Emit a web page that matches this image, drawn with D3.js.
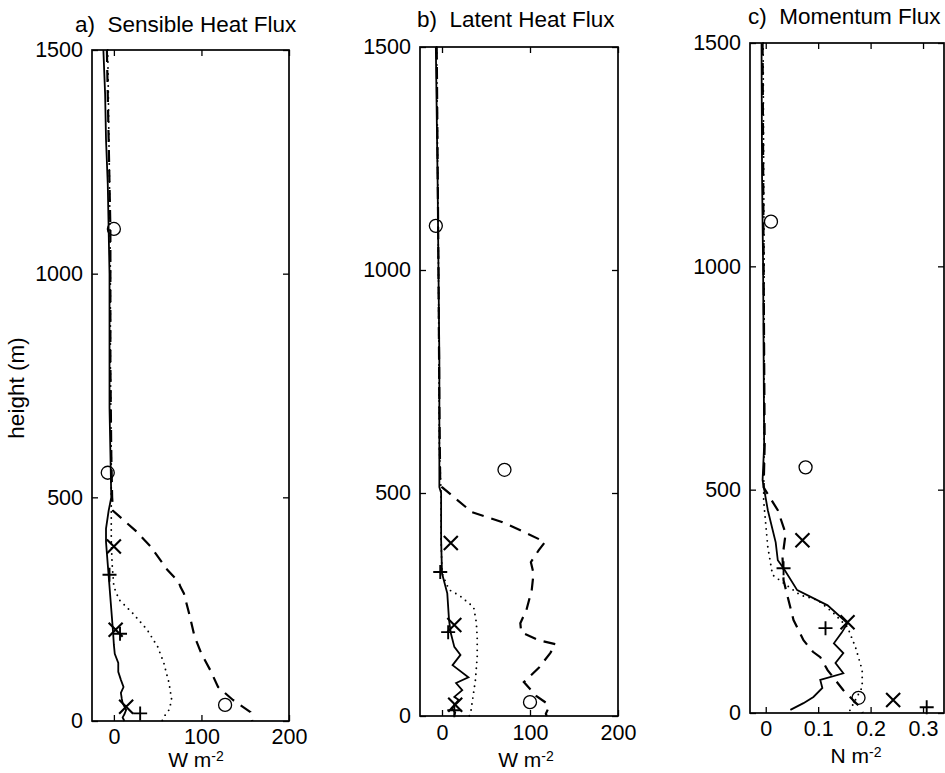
<!DOCTYPE html>
<html>
<head>
<meta charset="utf-8">
<script src="https://cdn.jsdelivr.net/npm/d3@7"></script>
<style>
  body { margin: 0; background: #fff; }
  svg text { font-family: "Liberation Sans", Arial, Helvetica, sans-serif; fill: #000; }
</style>
</head>
<body>
<div id="chart"></div>
<script>
// ---- data: [height (m), flux] ----
// a) sensible heat flux, W m-2
const sensSolid = [[1500,-12],[1400,-10],[1300,-9],[1200,-7],[1100,-6],[1000,-5],[900,-5],[800,-5],[700,-5],[600,-4],[500,-3],[470,-6],[430,-9],[400,-9],[350,-7],[300,-5],[250,-3],[200,-1],[170,0],[150,1],[130,5],[110,5],[92,8],[76,11],[63,8],[50,9],[40,10],[25,14],[15,12],[8,10],[0,12]];
const sensDashed = [[1500,-8],[1300,-6],[1100,-4],[1000,-4],[800,-4],[600,-3],[500,-2],[470,-1],[425,25],[390,42],[338,61],[311,74],[300,76],[285,80],[240,86],[190,92],[150,100],[114,110],[76,119],[47,136],[20,156],[0,158]];
const sensDotted = [[1500,-7],[1200,-5],[1000,-4],[800,-4],[600,-3],[500,-3],[430,-3],[405,-3],[350,-2],[300,0],[271,6],[242,21],[204,38],[166,50],[130,57],[107,60],[85,63],[47,66],[25,63],[9,57],[0,55]];
const sensCircle = [[1100,0],[555,-7],[36,127]];
const sensCross = [[390,0],[204,2],[32,14]];
const sensPlus = [[327,-5],[195,7],[17,30]];

// b) latent heat flux, W m-2
const latSolid = [[1500,-7],[1200,-5],[1000,-4],[800,-3],[600,-3],[513,-3],[500,-1],[395,-1],[320,0],[275,6],[215,8],[186,10],[155,14],[137,21],[114,12],[87,30],[74,16],[58,23],[43,14],[36,19],[18,11],[8,15],[0,14]];
const latDashed = [[1500,-6],[1000,-4],[700,-3],[520,-2],[513,0],[457,34],[435,68],[413,93],[390,117],[372,110],[345,101],[320,104],[283,102],[238,96],[208,89],[188,90],[170,110],[161,129],[141,123],[108,110],[76,93],[45,107],[30,118],[18,121],[5,118],[0,119]];
const latDotted = [[1500,-6],[1000,-4],[600,-3],[500,-1],[395,-1],[320,0],[283,8],[270,20],[244,36],[210,39],[177,40],[133,40],[81,38],[40,35],[13,33],[0,31]];
const latCircle = [[1099,-7],[552,71],[31,100]];
const latCross = [[388,10],[204,14],[25,15]];
const latPlus = [[323,-2],[188,7],[13,14]];

// c) momentum flux, N m-2
const momSolid = [[1500,-0.008],[1200,-0.007],[1000,-0.005],[800,-0.004],[600,-0.003],[521,-0.006],[454,0.004],[382,0.019],[342,0.023],[324,0.034],[275,0.06],[241,0.118],[201,0.156],[180,0.145],[156,0.13],[134,0.148],[112,0.133],[89,0.148],[74,0.104],[56,0.108],[36,0.091],[22,0.072],[7,0.047]];
const momDashed = [[1500,-0.006],[1000,-0.004],[600,-0.002],[505,-0.004],[454,0.023],[402,0.038],[349,0.032],[297,0.034],[208,0.053],[163,0.072],[137,0.09],[125,0.104],[96,0.118],[51,0.148],[13,0.18],[0,0.185]];
const momDotted = [[1500,-0.005],[1000,-0.003],[600,-0.003],[476,-0.004],[371,0.004],[309,0.013],[291,0.034],[264,0.066],[253,0.099],[224,0.129],[192,0.156],[148,0.171],[96,0.184],[58,0.184],[7,0.161],[0,0.158]];
const momCircle = [[1100,0.01],[550,0.076],[34,0.177]];
const momCross = [[387,0.07],[203,0.156],[29,0.243]];
const momPlus = [[324,0.034],[190,0.114],[13,0.307]];

const heightTicks = [0, 500, 1000, 1500];
const heatTicks = [0, 100, 200];
const momTicks = [0, 0.1, 0.2, 0.3];

const panels = [
  { title: "a)  Sensible Heat Flux", unit: "W m", xDomain: [-25, 200], xTicks: heatTicks, fmt: d3.format("d"),
    box: [92, 289, 50, 721], titleX: 75, titleY: 32, labelX: 196, labelY: 767, pad: 8,
    solid: sensSolid, dashed: sensDashed, dotted: sensDotted, circle: sensCircle, cross: sensCross, plus: sensPlus },
  { title: "b)  Latent Heat Flux", unit: "W m", xDomain: [-25, 200], xTicks: heatTicks, fmt: d3.format("d"),
    box: [420, 618, 47, 716], titleX: 417, titleY: 27, labelX: 526, labelY: 767, pad: 9,
    solid: latSolid, dashed: latDashed, dotted: latDotted, circle: latCircle, cross: latCross, plus: latPlus },
  { title: "c)  Momentum Flux", unit: "N m", xDomain: [-0.03, 0.34], xTicks: momTicks, fmt: d => d === 0 ? "0" : d3.format(".1f")(d),
    box: [750, 944, 43, 713], titleX: 748, titleY: 24, labelX: 856, labelY: 763, pad: 8,
    solid: momSolid, dashed: momDashed, dotted: momDotted, circle: momCircle, cross: momCross, plus: momPlus }
];

const svg = d3.select('#chart').append('svg')
    .attr('width', 945)
    .attr('height', 773);

panels.forEach(function (p) {
    const [x0, x1, y0, y1] = p.box;
    const x = d3.scaleLinear().domain(p.xDomain).range([x0, x1]);
    const y = d3.scaleLinear().domain([0, 1500]).range([y1, y0]);
    const g = svg.append('g');

    // inward ticks on all four sides
    g.append('g').attr('transform', `translate(0,${y1})`)
        .call(d3.axisBottom(x).tickValues(p.xTicks).tickFormat(p.fmt).tickSizeInner(-6).tickSizeOuter(0).tickPadding(p.pad));
    g.append('g').attr('transform', `translate(0,${y0})`)
        .call(d3.axisTop(x).tickValues(p.xTicks).tickFormat('').tickSizeInner(-6).tickSizeOuter(0));
    g.append('g').attr('transform', `translate(${x0},0)`)
        .call(d3.axisLeft(y).tickValues(heightTicks).tickFormat(d3.format('d')).tickSizeInner(-6).tickSizeOuter(0).tickPadding(9));
    g.append('g').attr('transform', `translate(${x1},0)`)
        .call(d3.axisRight(y).tickValues(heightTicks).tickFormat('').tickSizeInner(-6).tickSizeOuter(0));
    g.selectAll('.domain').remove();
    g.selectAll('.tick line').attr('stroke', '#000').attr('stroke-width', 1.3);
    g.selectAll('.tick text').attr('font-size', 21.5).attr('font-family', null);

    g.append('rect')
        .attr('x', x0).attr('y', y0)
        .attr('width', x1 - x0).attr('height', y1 - y0)
        .attr('fill', 'none').attr('stroke', '#000').attr('stroke-width', 1.7);

    const line = d3.line().x(d => x(d[1])).y(d => y(d[0]));

    g.append('path').datum(p.solid)
        .attr('d', line).attr('fill', 'none').attr('stroke', '#000').attr('stroke-width', 1.8);
    g.append('path').datum(p.dashed)
        .attr('d', line).attr('fill', 'none').attr('stroke', '#000').attr('stroke-width', 2.2)
        .attr('stroke-dasharray', '12,8');
    g.append('path').datum(p.dotted)
        .attr('d', line).attr('fill', 'none').attr('stroke', '#000').attr('stroke-width', 1.9)
        .attr('stroke-linecap', 'round').attr('stroke-dasharray', '0,6');

    // markers
    g.selectAll('.circ').data(p.circle).enter().append('circle')
        .attr('cx', d => x(d[1])).attr('cy', d => y(d[0])).attr('r', 6.5)
        .attr('fill', 'none').attr('stroke', '#000').attr('stroke-width', 1.3);
    const s = 7;
    p.cross.forEach(function (d) {
        const cx = x(d[1]), cy = y(d[0]);
        g.append('path')
            .attr('d', `M${cx - s},${cy - s}L${cx + s},${cy + s}M${cx - s},${cy + s}L${cx + s},${cy - s}`)
            .attr('stroke', '#000').attr('stroke-width', 2.1);
    });
    p.plus.forEach(function (d) {
        const cx = x(d[1]), cy = y(d[0]);
        g.append('path')
            .attr('d', `M${cx - s},${cy}L${cx + s},${cy}M${cx},${cy - s}L${cx},${cy + s}`)
            .attr('stroke', '#000').attr('stroke-width', 1.9);
    });

    // titles and labels
    g.append('text').attr('x', p.titleX).attr('y', p.titleY)
        .attr('font-size', 22.5).style('white-space', 'pre').text(p.title);
    const lab = g.append('text').attr('x', p.labelX).attr('y', p.labelY)
        .attr('text-anchor', 'middle').attr('font-size', 21);
    lab.append('tspan').text(p.unit);
    lab.append('tspan').attr('font-size', 14).attr('dy', -6).text('-2');
});

svg.append('text')
    .attr('transform', 'translate(24,388) rotate(-90)')
    .attr('text-anchor', 'middle')
    .attr('font-size', 22.5)
    .text('height (m)');
</script>
</body>
</html>
